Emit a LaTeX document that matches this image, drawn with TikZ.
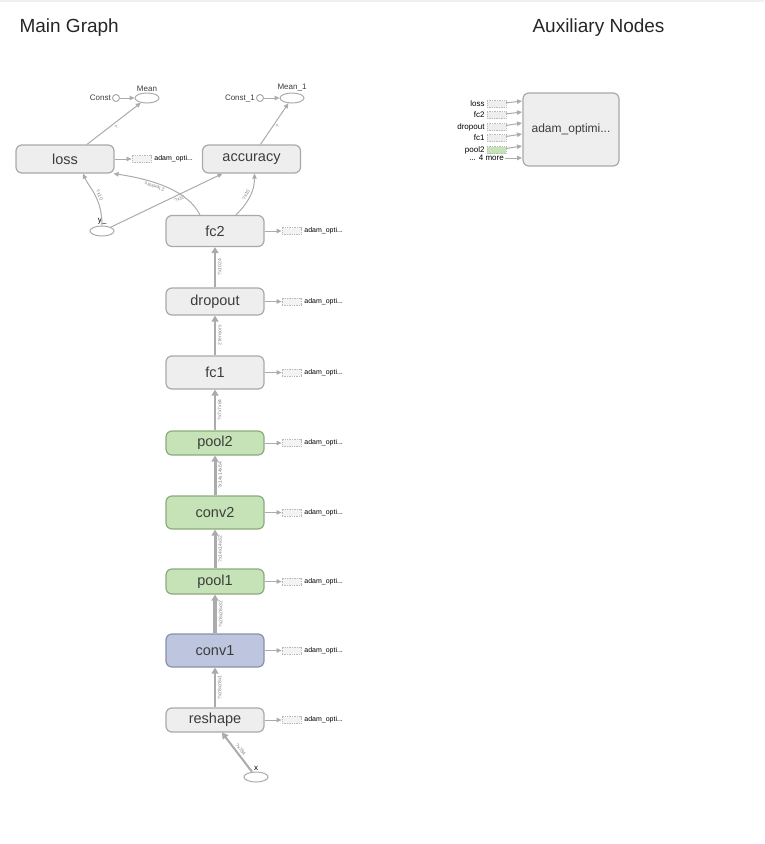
\documentclass[tikz,border=0pt]{standalone}
\usepackage{fontspec}
\setmainfont{Liberation Sans}
\usetikzlibrary{arrows.meta,positioning,shapes.geometric}
\definecolor{edgegray}{HTML}{ABABAB}
\definecolor{opfill}{HTML}{EEEEEE}
\definecolor{opline}{HTML}{A9A9A9}
\definecolor{grnfill}{HTML}{C6E3B8}
\definecolor{grnline}{HTML}{8DAA7D}
\definecolor{blufill}{HTML}{BDC6DE}
\definecolor{bluline}{HTML}{8891A9}
\definecolor{optext}{HTML}{3C3C3C}

\begin{document}
\begin{tikzpicture}[x=1pt, y=-1pt,
  op/.style={draw=opline, fill=opfill, rounded corners=6pt, line width=1.2pt,
  minimum width=98pt, inner sep=0pt, text=optext, font=\fontsize{14.5}{16}\selectfont},
  grn/.style={op, draw=grnline, fill=grnfill},
  blu/.style={op, draw=bluline, fill=blufill},
  ell/.style={ellipse, draw=edgegray, fill=white, line width=1pt,
  minimum width=24pt, minimum height=10pt, inner sep=0pt},
  cst/.style={circle, draw=edgegray, fill=white, line width=1pt, minimum size=7pt, inner sep=0pt},
  small/.style={font=\fontsize{8}{9}\selectfont, text=optext, inner sep=1pt},
  tiny/.style={font=\fontsize{5}{5}\selectfont, text=gray, inner sep=1.8pt, sloped},
  stubbox/.style={draw=opline!80, dash pattern=on 1pt off 0.7pt, fill=opfill!70,
  minimum width=19pt, minimum height=7pt, inner sep=0pt, line width=0.6pt},
  stubtxt/.style={font=\fontsize{7}{8}\selectfont, inner sep=0pt},
  link/.style={draw=edgegray, line width=1pt, -{Triangle[length=5pt, width=4.5pt]}},
  fat/.style={link, line width=#1, -{Triangle[length=6pt, width=7pt]}}]
\useasboundingbox (0,0) rectangle (764,844);
\fill[black!6] (0,0) rectangle (764,2);

\node[font=\fontsize{19}{20}\selectfont, text=black!85, anchor=west] (main) at (16,28) {Main Graph};
\node[font=\fontsize{19}{20}\selectfont, text=black!85, anchor=west] (aux) at (529,28) {Auxiliary Nodes};

\node[op, minimum height=28pt] (loss) at (65,159) {loss};
\node[op, minimum height=28pt] (acc) at (251.5,159) {accuracy};
\node[ell, label={[small]above:Mean}] (mean) at (147,98) {};
\node[cst, label={[small]left:Const}] (c0) at (116,98) {};
\node[ell, label={[small]above:Mean\_1}] (mean1) at (292,98) {};
\node[cst, label={[small]left:Const\_1}] (c1) at (260,98) {};
\node[ell, label={[small, text=black]above:y\_}] (y) at (102,231) {};
\node[op, minimum height=31pt] (fc2) at (215,231) {fc2};
\node[op, minimum height=27pt] (dropout) at (215,301.5) {dropout};
\node[op, minimum height=33pt] (fc1) at (215,372.5) {fc1};
\node[grn, minimum height=24pt] (pool2) at (215,443) {pool2};
\node[grn, minimum height=33pt] (conv2) at (215,512.5) {conv2};
\node[grn, minimum height=25pt] (pool1) at (215,581.5) {pool1};
\node[blu, minimum height=33pt] (conv1) at (215,650.5) {conv1};
\node[op, minimum height=24pt] (reshape) at (215,720) {reshape};
\node[ell, label={[small, text=black]above:x}] (x) at (256,777) {};

\draw[link] (c0) -- (mean);
\draw[link] (c1) -- (mean1);
\draw[link] ([xshift=22pt]loss.north) -- node[tiny, below]{?} (mean);
\draw[link] ([xshift=9pt]acc.north) -- node[tiny, below]{?} (mean1);
\draw[link] (y.north) .. controls +(0,-28) and +(6,14) .. node[tiny, above, pos=0.45]{?x10} ([xshift=18pt]loss.south);
\draw[link] (y.north east) -- node[tiny, below, pos=0.6]{?x10} ([xshift=-29pt]acc.south);
\draw[link] ([xshift=-15pt]fc2.north) .. controls +(-12,-24) and +(40,6) ..
  node[tiny, above, pos=0.62, allow upside down]{2 tensors} ([xshift=-1pt]loss.south east);
\draw[link] ([xshift=21pt]fc2.north) .. controls +(12,-12) and +(0,18) .. node[tiny, above]{?x10} ([xshift=3pt]acc.south);

\foreach \a/\b/\w/\t in {dropout/fc2/2/?x1024, fc1/dropout/2/2 tensors, pool2/fc1/2/?x7x7x64,
  conv2/pool2/3/?x14x14x64, pool1/conv2/3/?x14x14x32, conv1/pool1/4/?x28x28x32,
  reshape/conv1/2/?x28x28x1}
  \draw[fat=\w pt] (\a) -- node[tiny, below]{\t} (\b);
\draw[fat=2pt] (x) -- node[tiny, above]{?x784} ([xshift=7pt]reshape.south);

\foreach \n in {loss,fc2,dropout,fc1,pool2,conv2,pool1,conv1,reshape}{
  \node[stubbox, right=17pt of \n] (\n-s) {};
  \node[stubtxt, right=3pt of \n-s] (\n-t) {adam\_opti...};
  \draw[link] (\n) -- (\n-s);
}

\node[op, minimum width=96pt, minimum height=73pt, font=\fontsize{12}{13}\selectfont] (adam) at (571,129.5) {adam\_optimi...};
\foreach \n/\yy/\ye/\fl in {loss/104/101/opfill, fc2/115/112/opfill, dropout/127/123/opfill,
  fc1/138/134/opfill, pool2/150/146/grnfill}{
  \node[stubbox, fill=\fl] (in-\n) at (496.5,\yy) {};
  \node[small, text=black, left=1pt of in-\n] (lb-\n) {\n};
  \coordinate (to-\n) at (522,\ye);
  \draw[link] (in-\n) -- (to-\n);
}
\node[small, text=black, anchor=east] (more) at (505,158) {... 4 more};
\coordinate (to-more) at (522,158);
\draw[link] (more) -- (to-more);
\end{tikzpicture}
\end{document}
